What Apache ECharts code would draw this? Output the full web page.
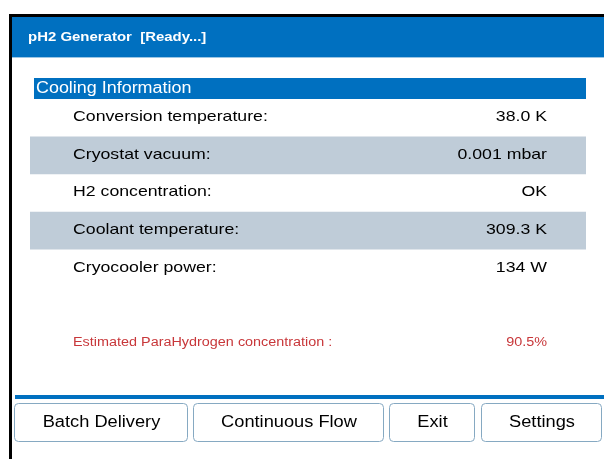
<!DOCTYPE html>
<html><head><meta charset="utf-8">
<script src="https://cdn.jsdelivr.net/npm/echarts@6/dist/echarts.min.js"></script>
<style>html,body{margin:0;padding:0;background:#fff}#c{width:604px;height:459px}</style>
</head><body><div id="c"></div>
<script>
const headerTitle = 'pH2 Generator  [Ready...]';
const sectionTitle = 'Cooling Information';
const rowLabels = ['Conversion temperature:', 'Cryostat vacuum:', 'H2 concentration:', 'Coolant temperature:', 'Cryocooler power:'];
const rowValues = ['38.0 K', '0.001 mbar', 'OK', '309.3 K', '134 W'];
const estimateLabel = 'Estimated ParaHydrogen concentration :';
const estimateValue = '90.5%';
const buttonLabels = ['Batch Delivery', 'Continuous Flow', 'Exit', 'Settings'];

const FONT = '"Liberation Sans", Arial, sans-serif';
const BLUE = '#0070c0';
const chart = echarts.init(document.getElementById('c'), null, {renderer: 'canvas'});
const g = [];
function txt(x, y, text, font, fill, align, sx) {
  return {type: 'text', x: x, y: y, scaleX: sx, style: {text: text, fill: fill, font: font + ' ' + FONT, textAlign: align, textVerticalAlign: 'middle'}};
}
// frame
g.push({type: 'rect', shape: {x: 9, y: 14, width: 600, height: 3}, style: {fill: '#000'}});
g.push({type: 'rect', shape: {x: 9, y: 14, width: 3, height: 450}, style: {fill: '#000'}});
// header
g.push({type: 'rect', shape: {x: 12, y: 17, width: 592, height: 40}, style: {fill: BLUE}});
g.push({type: 'rect', shape: {x: 12, y: 57, width: 592, height: 1}, style: {fill: '#9cc6e4'}});
g.push(txt(28, 37, headerTitle, 'bold 13px', '#fff', 'left', 1.15));
// section bar
g.push({type: 'rect', shape: {x: 34, y: 78, width: 552, height: 21}, style: {fill: BLUE}});
g.push(txt(36, 89, sectionTitle, '16px', '#fff', 'left', 1.12));
// rows
const rowTop = 99, rowH = 37.6;
rowLabels.forEach((lab, i) => {
  const cy = rowTop + rowH * i + rowH / 2 - 0.8;
  if (i % 2 === 1) {
    g.push({type: 'rect', shape: {x: 30, y: rowTop + rowH * i, width: 556, height: rowH}, style: {fill: '#bfccd8'}});
  }
  g.push(txt(73, cy, lab, '15px', '#000', 'left', 1.18));
  g.push(txt(547, cy, rowValues[i], '15px', '#000', 'right', 1.18));
});
// estimate
g.push(txt(73, 343, estimateLabel, '12px', '#c8373a', 'left', 1.2));
g.push(txt(547, 343, estimateValue, '12px', '#c8373a', 'right', 1.2));
// separator
g.push({type: 'rect', shape: {x: 15, y: 395, width: 589, height: 4}, style: {fill: BLUE}});
// buttons
const btnX = [14, 193, 389, 481], btnW = [173, 190, 85, 120];
buttonLabels.forEach((b, i) => {
  g.push({type: 'rect', shape: {x: btnX[i] + 0.5, y: 403.5, width: btnW[i], height: 38, r: 4}, style: {fill: '#fff', stroke: '#86a9c2', lineWidth: 1}});
  g.push(txt(btnX[i] + btnW[i] / 2 + 1, 423, b, '16px', '#000', 'center', 1.14));
});
chart.setOption({animation: false, graphic: {elements: g}});
</script></body></html>
